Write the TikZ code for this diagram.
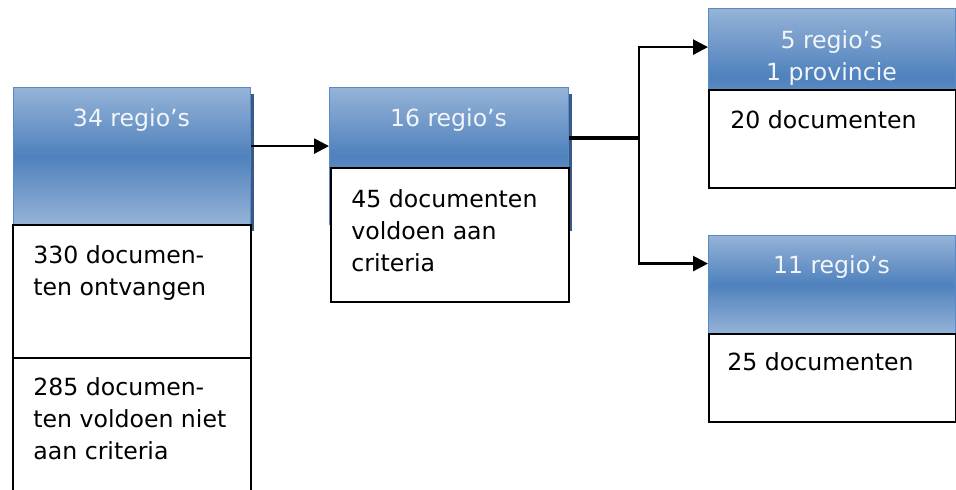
\documentclass[tikz,border=0pt]{standalone}
\usepackage{fontspec}
\setmainfont{DejaVu Sans}
\usetikzlibrary{arrows.meta,shadows}
\definecolor{kopLicht}{HTML}{95B3D7}
\definecolor{kopDonker}{HTML}{4F81BD}
\definecolor{kopRand}{HTML}{5A8AC6}
\definecolor{kopSchaduw}{HTML}{38598A}
\definecolor{kopTekst}{HTML}{F2F5FA}
\tikzset{
    kop/.style={draw=kopRand, line width=0.6pt, anchor=north west, inner sep=0pt,
        drop shadow={shadow xshift=1.5pt, shadow yshift=-3pt, fill=kopSchaduw, opacity=1},
        top color=kopLicht, bottom color=kopLicht, middle color=kopDonker},
    vak/.style={draw=black, line width=1pt, fill=white, anchor=north west, inner sep=0pt},
    koptekst/.style={text=kopTekst, anchor=base, align=center, inner sep=0pt},
    vaktekst/.style={text=black, anchor=north west, align=left, inner sep=0pt},
    pijl/.style={line width=1.25pt, -{Triangle[length=7.5pt,width=7.5pt]}}
}
\begin{document}
\begin{tikzpicture}[x=0.5pt, y=-0.5pt, font=\fontsize{11.8}{16}\selectfont]
    \useasboundingbox (0,0) rectangle (956,490);
    % koppen
    \node[kop, minimum width=118.5pt, minimum height=68.5pt] (h34) at (13,87) {};
    \node[kop, minimum width=119.5pt, minimum height=68.5pt] (h16) at (329,87) {};
    \node[kop, minimum width=123.5pt, minimum height=68.5pt] (h5) at (708,8) {};
    \node[kop, minimum width=123.5pt, minimum height=49pt] (h11) at (708,235) {};
    % vakken
    \node[vak, minimum width=119pt, minimum height=66.5pt] (v330) at (12,224) {};
    \node[vak, minimum width=119pt, minimum height=70pt] (v285) at (12,357) {};
    \node[vak, minimum width=119pt, minimum height=67pt] (v45) at (330,167) {};
    \node[vak, minimum width=123.5pt, minimum height=49pt] (v20) at (708,89) {};
    \node[vak, minimum width=123.5pt, minimum height=44pt] (v25) at (708,333) {};
    % teksten
    \node[koptekst] (t34) at (131.5,127) {34 regio’s};
    \node[koptekst] (t16) at (448.5,127) {16 regio’s};
    \node[koptekst, anchor=north] (t5) at (831.5,30) {5 regio’s\\1 provincie};
    \node[koptekst] (t11) at (831.5,274) {11 regio’s};
    \node[vaktekst] (t330) at ([shift={(10.5pt,-10.8pt)}]v330.north west) {330 documen-\\ten ontvangen};
    \node[vaktekst] (t285) at ([shift={(10.5pt,-10.3pt)}]v285.north west) {285 documen-\\ten voldoen niet\\aan criteria};
    \node[vaktekst] (t45) at ([shift={(10.5pt,-11.3pt)}]v45.north west) {45 documenten\\voldoen aan\\criteria};
    \node[vaktekst] (t20) at ([shift={(11pt,-10.8pt)}]v20.north west) {20 documenten};
    \node[vaktekst] (t25) at ([shift={(9.5pt,-9.8pt)}]v25.north west) {25 documenten};
    % pijlen
    \coordinate (splits) at ([xshift=35pt, yshift=9pt]h16.east);
    \draw[pijl] ([yshift=5pt]h34.east) -- ([yshift=5pt]h16.west);
    \draw[line width=2pt] ([yshift=9pt]h16.east) -- (splits);
    \draw[pijl] (splits) |- ([yshift=15pt]h5.west);
    \draw[pijl] (splits) |- ([yshift=10.5pt]h11.west);
\end{tikzpicture}
\end{document}
